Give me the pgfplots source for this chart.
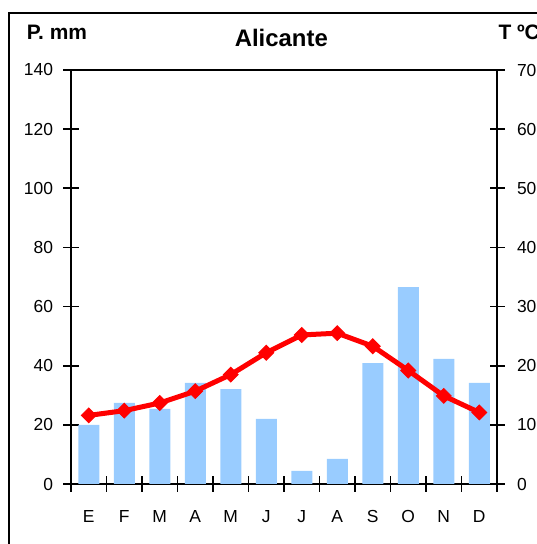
\documentclass[border=0pt]{standalone}
\usepackage{fontspec}
\setmainfont{Liberation Sans}
\usepackage{pgfplots}
\pgfplotsset{compat=1.18}
\definecolor{barblue}{HTML}{99CCFF}
\begin{document}
\begin{tikzpicture}
\useasboundingbox (-71bp,-60bp) rectangle (466bp,484bp);
\pgfplotsset{
  climate/.style={
    scale only axis, width=426bp, height=414bp,
    xmin=-0.5, xmax=11.5,
    tick align=center, major tick length=15bp,
    axis line style={line width=1.8bp},
    tick style={black, line width=1.8bp},
    tick label style={font=\fontsize{17.5}{17.5}\selectfont},
    /pgf/number format/assume math mode=true,
  }
}
% precipitacion (barras)
\begin{axis}[
  climate,
  ymin=0, ymax=140, ytick={0,20,...,140}, ytick pos=left,
  yticklabel style={xshift=-7bp},
  xtick={-0.5,0.5,...,11.5}, x tick label as interval,
  xticklabels={E,F,M,A,M,J,J,A,S,O,N,D}, xtick pos=bottom,
  xticklabel style={yshift=-15bp},
]
\addplot[ybar, bar width=21bp, fill=barblue, draw=none] coordinates {
  (0,20.0) (1,27.4) (2,25.4) (3,34.2) (4,32.1) (5,22.0)
  (6,4.4) (7,8.5) (8,40.9) (9,66.6) (10,42.3) (11,34.2)
};
\end{axis}
% temperatura (linea)
\begin{axis}[
  climate,
  ymin=0, ymax=70, ytick={0,10,...,70},
  yticklabel style={xshift=9bp},
  axis y line*=right, hide x axis,
]
\addplot[red, line width=5bp, mark=square*, mark size=5.2bp,
  mark options={rotate=45, solid, line width=1bp}] coordinates {
  (0,11.6) (1,12.4) (2,13.7) (3,15.7) (4,18.5) (5,22.2)
  (6,25.2) (7,25.5) (8,23.3) (9,19.2) (10,14.9) (11,12.1)
};
\end{axis}
% marco exterior y rotulos
\draw[line width=2bp] (-62bp,-80bp) -- (-62bp,470.7bp) -- (500bp,470.7bp);
\node[anchor=base west, inner sep=0pt, font=\bfseries\fontsize{21}{21}\selectfont] at (-44.3bp,444.7bp) {P. mm};
\node[anchor=base, inner sep=0pt, font=\bfseries\fontsize{24}{24}\selectfont] at (210.3bp,437.3bp) {Alicante};
\node[anchor=base west, inner sep=0pt, font=\bfseries\fontsize{21}{21}\selectfont] at (427.3bp,444.7bp) {T ºC};
\end{tikzpicture}
\end{document}
